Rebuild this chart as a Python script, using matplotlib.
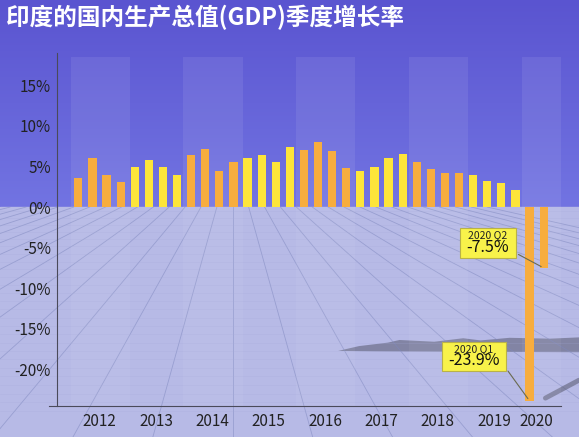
import numpy as np
import matplotlib.pyplot as plt
from matplotlib.colors import LinearSegmentedColormap
from matplotlib.offsetbox import AnnotationBbox, TextArea, VPacker, HPacker, DrawingArea

plt.rcParams['font.family'] = ['Noto Sans CJK SC', 'DejaVu Sans']

# 数据：2012 Q1 - 2020 Q2 季度增长率 (%)
years = ['2012', '2013', '2014', '2015', '2016', '2017', '2018', '2019', '2020']
growth = [3.6, 6.0, 4.0, 3.1,
          5.0, 5.8, 5.0, 4.0,
          6.4, 7.1, 4.5, 5.5,
          6.1, 6.4, 5.6, 7.4,
          7.0, 8.0, 6.9, 4.8,
          4.4, 5.0, 6.0, 6.5,
          5.5, 4.7, 4.2, 4.2,
          3.9, 3.2, 3.0, 2.1,
          -23.9, -7.5]
quarters = [f'{years[i // 4]} Q{i % 4 + 1}' for i in range(len(growth))]
yticks = [-20, -15, -10, -5, 0, 5, 10, 15]
title = '印度的国内生产总值(GDP)季度增长率'

orange = '#f7ad3e'
yellow = '#fde53a'

fig = plt.figure(figsize=(5.79, 4.37), dpi=100)

ylo, yhi = -24.5, 19
ax_box = [0.0976, 0.0716, 0.8705, 0.8071]
horizon = ax_box[1] + ax_box[3] * (0 - ylo) / (yhi - ylo)

# фон: небо и "пол"
bg = fig.add_axes([0, 0, 1, 1], zorder=0)
bg.set_xlim(0, 1)
bg.set_ylim(0, 1)
bg.axis('off')
grad = np.linspace(0, 1, 256).reshape(-1, 1)
sky = LinearSegmentedColormap.from_list('sky', ['#7274e2', '#5a54d0'])
bg.imshow(grad, extent=[0, 1, horizon, 1], origin='lower', cmap=sky, aspect='auto')
bg.axhspan(0, horizon, color='#b7bae6')

# перспективная сетка
vx, vy = 0.402, 0.657
for k in range(-16, 17):
    xb = vx + k * 0.138
    t = (vy - horizon) / vy
    xh = vx + (xb - vx) * t
    bg.plot([xh, xb], [horizon, 0], color='#7f88bf', lw=0.6, alpha=0.55)
for d in np.linspace(0.015, 0.5, 26) ** 1.1:
    bg.axhline(horizon - d, color='#a4a9d8', lw=0.4, alpha=0.35)

# тень
bg.fill([0.584, 0.62, 0.67, 0.69, 0.75, 0.8, 0.83, 0.88, 0.95, 1.0, 1.0, 0.8, 0.65, 0.584],
        [0.197, 0.208, 0.216, 0.222, 0.218, 0.226, 0.221, 0.227, 0.225, 0.228,
         0.194, 0.195, 0.196, 0.197],
        color='#5f6178', alpha=0.6, lw=0)
bg.plot([0.942, 1.0], [0.089, 0.13], color='#5f6178', alpha=0.6, lw=3.5,
        solid_capstyle='round')

# основной график
ax = fig.add_axes(ax_box, zorder=2)
ax.patch.set_alpha(0)

x = np.arange(len(growth))
colors = [orange if (i // 4) % 2 == 0 else yellow for i in range(len(growth))]

# светлые полосы по чётным годам
zero_frac = (0 - ylo) / (yhi - ylo)
for j in range(0, len(years), 2):
    start = j * 4
    ax.axvspan(start - 0.55, start + 3.65, ymin=zero_frac, ymax=0.988,
               color='white', alpha=0.08, lw=0, zorder=1)
    ax.axvspan(start - 0.55, start + 3.65, ymin=0, ymax=zero_frac,
               color='white', alpha=0.05, lw=0, zorder=1)

ax.bar(x, growth, width=0.58, color=colors, zorder=3)

ax.set_xlim(-1.55, 34.2)
ax.set_ylim(ylo, yhi)

ax.set_yticks(yticks)
ax.set_yticklabels([f'{v}%' for v in yticks])
centers = [min(4 * j + 1.5, (4 * j + len(growth) - 1) / 2) for j in range(len(years))]
ax.set_xticks(centers)
ax.set_xticklabels(years)
ax.tick_params(length=0, labelsize=11, labelcolor='#222222')
ax.tick_params(axis='y', pad=4)
ax.tick_params(axis='x', pad=5)

for s in ['top', 'right']:
    ax.spines[s].set_visible(False)
ax.spines['left'].set_color('#4a4a5a')
ax.spines['left'].set_linewidth(0.8)
ax.spines['bottom'].set_color('#4a4a5a')
ax.spines['bottom'].set_linewidth(0.8)
ax.spines['bottom'].set_bounds(-2.05, 34.2)

# подписи для 2020
offsets = {32: (-40, 32), 33: (-40, 18)}
for i, (dx, dy) in offsets.items():
    small = TextArea(quarters[i], textprops=dict(fontsize=7.5, color='#222222'))
    big = TextArea(f'{growth[i]}%', textprops=dict(fontsize=11.5, color='#111111'))
    inner = VPacker(children=[small, big], align='center', pad=0, sep=-1)
    box = HPacker(children=[DrawingArea(3, 1), inner, DrawingArea(3, 1)],
                  align='center', pad=0, sep=0)
    ab = AnnotationBbox(box, (i, growth[i]), xybox=(dx, dy),
                        boxcoords='offset points', pad=0.15,
                        bboxprops=dict(facecolor='#f8f24a', edgecolor='#b9b248', lw=0.8),
                        arrowprops=dict(arrowstyle='-', color='#6a6a50', lw=0.8,
                                        relpos=(1, 0.15)),
                        zorder=5)
    ax.add_artist(ab)

fig.text(0.01, 0.959, title, color='white', fontsize=17, fontweight='bold',
         va='center', ha='left')

plt.savefig('out.png', dpi=100)
